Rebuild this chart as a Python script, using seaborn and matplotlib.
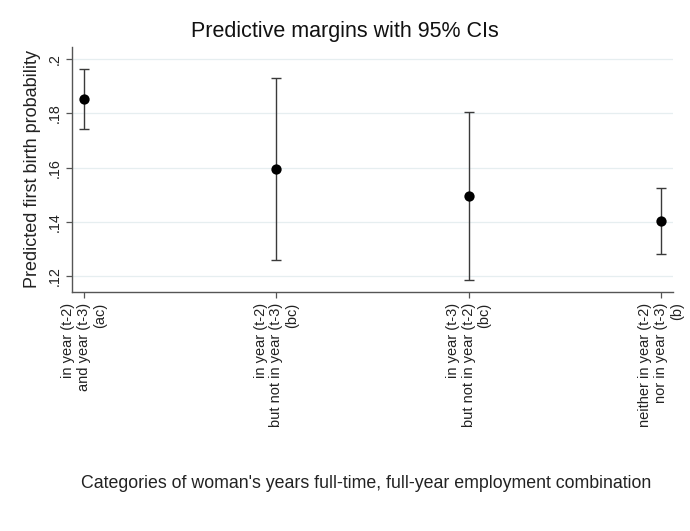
import matplotlib
matplotlib.use("Agg")
import matplotlib.pyplot as plt
import seaborn as sns
import pandas as pd

categories = [
    "in year (t-2)\nand year (t-3)\n(ac)",
    "in year (t-2)\nbut not in year (t-3)\n(bc)",
    "in year (t-3)\nbut not in year (t-2)\n(bc)",
    "neither in year (t-2)\nnor in year (t-3)\n(b)",
]
margins = [0.1852, 0.1595, 0.1494, 0.1404]
ci_low = [0.1743, 0.1260, 0.1185, 0.1281]
ci_high = [0.1962, 0.1931, 0.1805, 0.1526]
yticks = [0.12, 0.14, 0.16, 0.18, 0.20]
ytick_labels = [".12", ".14", ".16", ".18", ".2"]

sns.set_theme(style="white")
plt.rcParams["font.family"] = ["Liberation Sans", "DejaVu Sans"]

df = pd.DataFrame({"pos": range(len(categories)), "margin": margins,
                   "lo": ci_low, "hi": ci_high})

fig = plt.figure(figsize=(6.9, 5.31), dpi=100)
ax = fig.add_axes([72/690, 1-292/531, (673-72)/690, (292-47)/531])

ax.errorbar(df["pos"], df["margin"],
            yerr=[df["margin"] - df["lo"], df["hi"] - df["margin"]],
            fmt="none", ecolor="#3a3a3a", elinewidth=1.0, capsize=3.4,
            capthick=1.0, zorder=2)
sns.scatterplot(data=df, x="pos", y="margin", ax=ax, color="black",
                s=55, edgecolor="black", linewidth=0, zorder=3)

ax.set_xlim(-0.0624, 3.0624)
ax.set_ylim(0.1142, 0.2044)
ax.set_yticks(yticks)
ax.set_yticklabels(ytick_labels, rotation=90, va="center", fontsize=10.3)
ax.set_xticks(range(len(categories)))
ax.set_xticklabels(categories, rotation=90, ha="center", va="top",
                   multialignment="right", fontsize=10.5, linespacing=1.15)
ax.grid(axis="y", color="#e6eef0", linewidth=0.9)
ax.grid(axis="x", visible=False)
for s in ["top", "right"]:
    ax.spines[s].set_visible(False)
for s in ["left", "bottom"]:
    ax.spines[s].set_color("#555555")
    ax.spines[s].set_linewidth(1.0)
ax.tick_params(axis="both", direction="out", length=4.5, width=0.9,
               color="#555555", labelcolor="#222222", left=True, bottom=True)
ax.tick_params(axis="x", pad=3)
ax.tick_params(axis="y", pad=3)
ax.set_xlabel("")
ax.set_ylabel("Predicted first birth probability", fontsize=13,
              color="#222222", labelpad=5)

fig.text(0.5, 1-32/531, "Predictive margins with 95% CIs", ha="center",
         va="center", fontsize=15.5, color="#111111")
fig.text(366/690, 1-483/531,
         "Categories of woman's years full-time, full-year employment combination",
         ha="center", va="center", fontsize=12.8, color="#222222")

fig.savefig("out.png", dpi=100, facecolor="white")
